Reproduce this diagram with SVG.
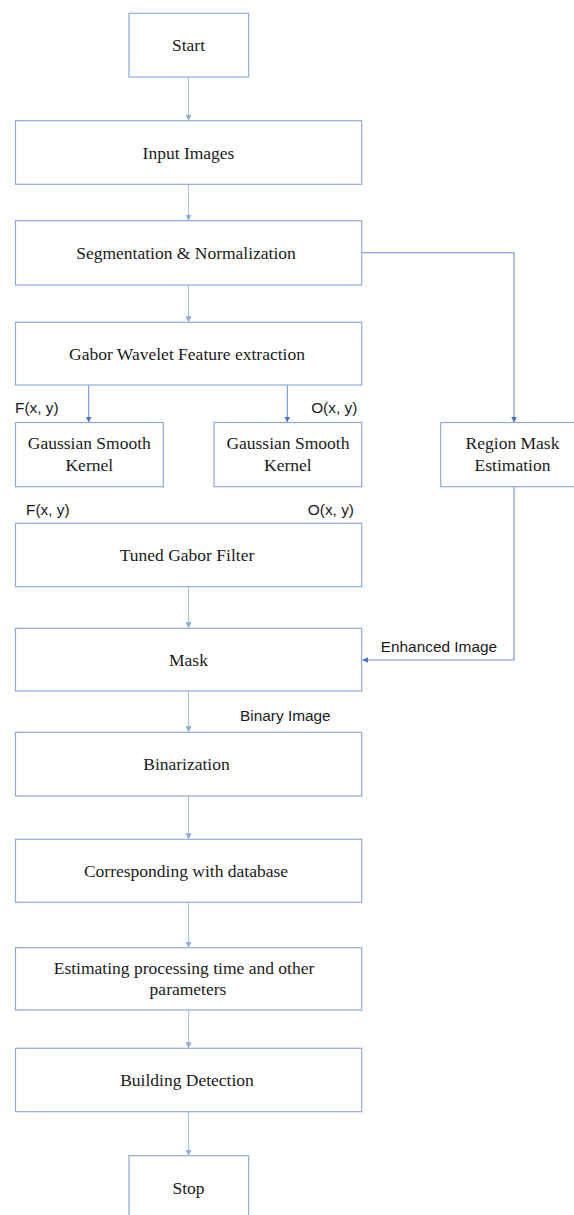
<svg xmlns="http://www.w3.org/2000/svg" width="574" height="1215" viewBox="0 0 574 1215">
<style>
.box{fill:#ffffff;stroke:#8eaadb;stroke-width:1.2}
.t{font-family:"Liberation Serif","Times New Roman",serif;font-size:17.5px;fill:#1a1a1a;text-anchor:middle}
.lbl{font-family:"Liberation Sans",Arial,sans-serif;font-size:15.4px;fill:#1a1a1a}
.c1{fill:none;stroke:#a9c0ea;stroke-width:1}
.c2{fill:none;stroke:#6f93da;stroke-width:1.1}
</style>
<defs>
<marker id="ah1" viewBox="0 0 6 6" refX="6" refY="3" markerWidth="6" markerHeight="6" markerUnits="userSpaceOnUse" orient="auto"><path d="M0,0 L6,3 L0,6 z" fill="#8eaadb"/></marker>
<marker id="ah2" viewBox="0 0 6 6" refX="6" refY="3" markerWidth="6" markerHeight="6" markerUnits="userSpaceOnUse" orient="auto"><path d="M0,0 L6,3 L0,6 z" fill="#4472c4"/></marker>
</defs>
<rect width="574" height="1215" fill="#ffffff"/>
<g id="connectors">
<line class="c1" x1="188.5" y1="77" x2="188.5" y2="120.7" marker-end="url(#ah1)"/>
<line class="c1" x1="188.5" y1="184.3" x2="188.5" y2="220.7" marker-end="url(#ah1)"/>
<line class="c1" x1="188.5" y1="285" x2="188.5" y2="322.3" marker-end="url(#ah1)"/>
<line class="c2" x1="88.7" y1="385" x2="88.7" y2="422.5" marker-end="url(#ah2)"/>
<line class="c2" x1="287.3" y1="385" x2="287.3" y2="422.5" marker-end="url(#ah2)"/>
<polyline class="c2" points="361.7,252.7 514,252.7 514,422.5" marker-end="url(#ah2)"/>
<polyline class="c2" points="514,486.7 514,660 362.3,660" marker-end="url(#ah2)"/>
<line class="c1" x1="188.5" y1="586.7" x2="188.5" y2="628.3" marker-end="url(#ah1)"/>
<line class="c1" x1="188.5" y1="691" x2="188.5" y2="732.3" marker-end="url(#ah1)"/>
<line class="c1" x1="188.5" y1="796" x2="188.5" y2="839.3" marker-end="url(#ah1)"/>
<line class="c1" x1="188.5" y1="902.3" x2="188.5" y2="947.7" marker-end="url(#ah1)"/>
<line class="c1" x1="188.5" y1="1010" x2="188.5" y2="1048.3" marker-end="url(#ah1)"/>
<line class="c1" x1="188.5" y1="1111.7" x2="188.5" y2="1155.7" marker-end="url(#ah1)"/>
<text class="lbl" x="15" y="413.3">F(x, y)</text>
<text class="lbl" x="357.3" y="412.7" text-anchor="end">O(x, y)</text>
<text class="lbl" x="26" y="515">F(x, y)</text>
<text class="lbl" x="354" y="515" text-anchor="end">O(x, y)</text>
<text class="lbl" x="380.7" y="651.7">Enhanced Image</text>
<text class="lbl" x="240" y="721">Binary Image</text>
</g>
<g id="start"><rect class="box" x="129" y="13.3" width="119.7" height="63.7"/><text class="t" x="188.5" y="51">Start</text></g>
<g id="input"><rect class="box" x="15.5" y="120.7" width="346.2" height="63.6"/><text class="t" x="188.5" y="158.5">Input Images</text></g>
<g id="segmentation"><rect class="box" x="15.5" y="220.7" width="346.2" height="64.3"/><text class="t" x="186" y="258.7">Segmentation &amp; Normalization</text></g>
<g id="gabor"><rect class="box" x="15.5" y="322.3" width="346.2" height="62.7"/><text class="t" x="187" y="359.5">Gabor Wavelet Feature extraction</text></g>
<g id="gauss1"><rect class="box" x="15.5" y="422.5" width="147.8" height="64.2"/><text class="t" x="89.3" y="449">Gaussian Smooth</text><text class="t" x="89.3" y="471">Kernel</text></g>
<g id="gauss2"><rect class="box" x="214" y="422.5" width="147.7" height="64.2"/><text class="t" x="287.9" y="449">Gaussian Smooth</text><text class="t" x="287.9" y="471">Kernel</text></g>
<g id="region"><rect class="box" x="440.7" y="422.5" width="144" height="64.2"/><text class="t" x="512.5" y="449">Region Mask</text><text class="t" x="512.5" y="471">Estimation</text></g>
<g id="tuned"><rect class="box" x="15.5" y="523.3" width="346.2" height="63.4"/><text class="t" x="187" y="561">Tuned Gabor Filter</text></g>
<g id="mask"><rect class="box" x="15.5" y="628.3" width="346.2" height="62.7"/><text class="t" x="188.5" y="665.5">Mask</text></g>
<g id="binarization"><rect class="box" x="15.5" y="732.3" width="346.2" height="63.7"/><text class="t" x="186.5" y="770">Binarization</text></g>
<g id="corresponding"><rect class="box" x="15.5" y="839.3" width="346.2" height="63"/><text class="t" x="186" y="877">Corresponding with database</text></g>
<g id="estimating"><rect class="box" x="15.5" y="947.7" width="346.2" height="62.3"/><text class="t" x="184" y="974">Estimating processing time and other</text><text class="t" x="188" y="994.5">parameters</text></g>
<g id="building"><rect class="box" x="15.5" y="1048.3" width="346.2" height="63.4"/><text class="t" x="187" y="1086">Building Detection</text></g>
<g id="stop"><rect class="box" x="129" y="1155.7" width="119.7" height="64"/><text class="t" x="188.5" y="1193.5">Stop</text></g>
</svg>
